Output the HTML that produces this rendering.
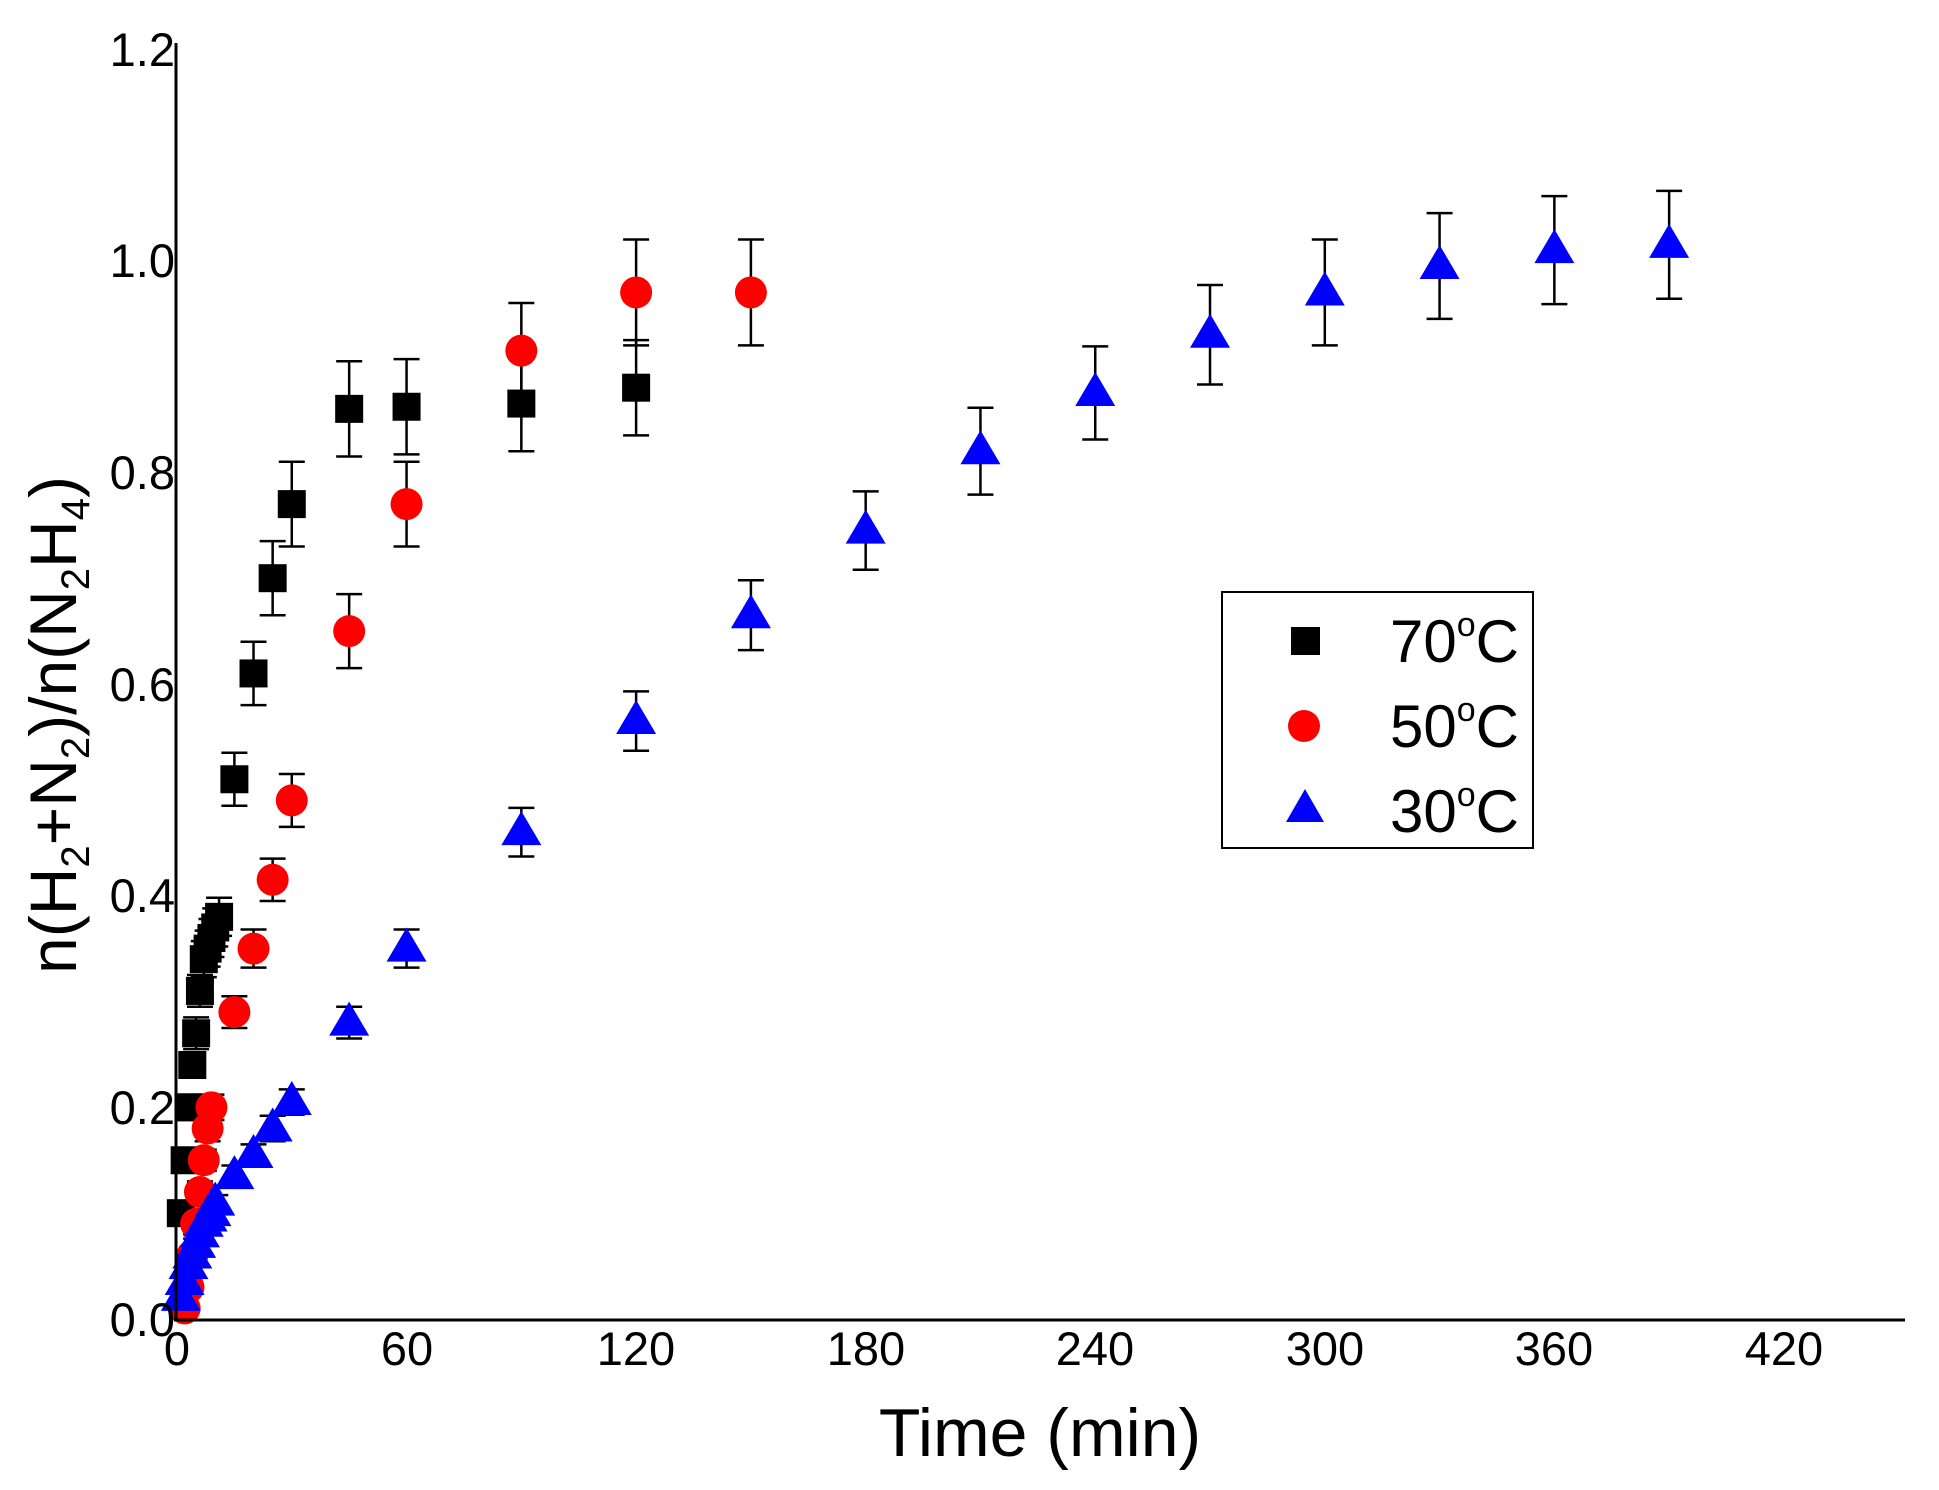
<!DOCTYPE html>
<html><head><meta charset="utf-8"><style>
html,body{margin:0;padding:0;background:#fff;}
svg{display:block;font-family:"Liberation Sans",Arial,sans-serif;}
</style></head><body>
<svg id="s" width="1939" height="1490" viewBox="0 0 1939 1490" xmlns="http://www.w3.org/2000/svg">
<rect width="1939" height="1490" fill="#fff"/>
<g id="data"></g>
<line x1="176" y1="43" x2="176" y2="1321" stroke="#000" stroke-width="3"/>
<line x1="174" y1="1320" x2="1905" y2="1320" stroke="#000" stroke-width="3"/>
<g font-size="47" text-anchor="end" fill="#000">
<text x="175" y="1336">0.0</text>
<text x="175" y="1124">0.2</text>
<text x="175" y="912">0.4</text>
<text x="175" y="701">0.6</text>
<text x="175" y="489">0.8</text>
<text x="175" y="277">1.0</text>
<text x="175" y="66">1.2</text>
</g>
<g font-size="47" text-anchor="middle" fill="#000">
<text x="177" y="1365">0</text>
<text x="407" y="1365">60</text>
<text x="636" y="1365">120</text>
<text x="866" y="1365">180</text>
<text x="1095" y="1365">240</text>
<text x="1325" y="1365">300</text>
<text x="1554" y="1365">360</text>
<text x="1784" y="1365">420</text>
</g>
<text x="1040" y="1456" font-size="68" text-anchor="middle">Time (min)</text>
<text transform="translate(76,725) rotate(-90)" font-size="66" text-anchor="middle">n(H<tspan font-size="40" dy="13">2</tspan><tspan dy="-13">+N</tspan><tspan font-size="40" dy="13">2</tspan><tspan dy="-13">)/n(N</tspan><tspan font-size="40" dy="13">2</tspan><tspan dy="-13">H</tspan><tspan font-size="40" dy="13">4</tspan><tspan dy="-13">)</tspan></text>
<rect x="1222" y="592" width="311" height="256" fill="#fff" stroke="#000" stroke-width="2"/>
<rect x="1291" y="627" width="29" height="28" fill="#000"/>
<circle cx="1304" cy="726" r="16" fill="#f00"/>
<polygon points="1305,789 1286,822 1324,822" fill="#00f"/>
<g font-size="60" fill="#000">
<text x="1390" y="662">70<tspan font-size="34" dy="-26">o</tspan><tspan dy="26">C</tspan></text>
<text x="1390" y="747">50<tspan font-size="34" dy="-26">o</tspan><tspan dy="26">C</tspan></text>
<text x="1390" y="832">30<tspan font-size="34" dy="-26">o</tspan><tspan dy="26">C</tspan></text>
</g>
</svg>
<script>
var X=function(t){return 177+t*3.826;},Y=function(v){return 1319-v*1058.3;};
var g=document.getElementById('data'),h='';
var s70=[[1,.1,.01],[2,.15,.01],[3,.2,.012],[4,.24,.012],[5,.27,.015],[6,.31,.015],[7,.34,.017],[8,.35,.017],[9,.36,.018],[10,.37,.018],[11,.38,.018],[15,.51,.025],[20,.61,.03],[25,.70,.035],[30,.77,.04],[45,.86,.045],[60,.862,.045],[90,.865,.045],[120,.88,.045]];
var s50=[[2,.01,.005],[3,.03,.006],[4,.06,.008],[5,.09,.01],[6,.12,.01],[7,.15,.01],[8,.18,.012],[9,.2,.012],[15,.29,.015],[20,.35,.018],[25,.415,.02],[30,.49,.025],[45,.65,.035],[60,.77,.04],[90,.915,.045],[120,.97,.05],[150,.97,.05]];
var s30=[[1,.02,.005],[2,.035,.005],[3,.05,.006],[4,.06,.006],[5,.07,.006],[6,.08,.006],[7,.09,.007],[8,.095,.007],[9,.1,.007],[10,.11,.007],[15,.135,.01],[20,.155,.01],[25,.18,.012],[30,.205,.012],[45,.28,.015],[60,.35,.018],[90,.46,.023],[120,.565,.028],[150,.665,.033],[180,.745,.037],[210,.82,.041],[240,.875,.044],[270,.93,.047],[300,.97,.05],[330,.995,.05],[360,1.01,.051],[390,1.015,.051]];
function eb(d){d.forEach(function(p){var x=X(p[0]),a=Y(p[1]+p[2]),b=Y(p[1]-p[2]);
h+='<line x1="'+x+'" y1="'+a+'" x2="'+x+'" y2="'+b+'" stroke="#000" stroke-width="2.5"/>';
h+='<line x1="'+(x-13)+'" y1="'+a+'" x2="'+(x+13)+'" y2="'+a+'" stroke="#000" stroke-width="2.5"/>';
h+='<line x1="'+(x-13)+'" y1="'+b+'" x2="'+(x+13)+'" y2="'+b+'" stroke="#000" stroke-width="2.5"/>';});}
eb(s70);eb(s50);eb(s30);
s70.forEach(function(p){var x=X(p[0]),y=Y(p[1]);h+='<rect x="'+(x-14)+'" y="'+(y-14)+'" width="28" height="28" fill="#000"/>';});
s50.forEach(function(p){h+='<circle cx="'+X(p[0])+'" cy="'+Y(p[1])+'" r="16" fill="#f00"/>';});
s30.forEach(function(p){var x=X(p[0]),y=Y(p[1]);h+='<polygon points="'+x+','+(y-21)+' '+(x-20)+','+(y+13)+' '+(x+20)+','+(y+13)+'" fill="#00f"/>';});
g.innerHTML=h;
</script>
</body></html>
